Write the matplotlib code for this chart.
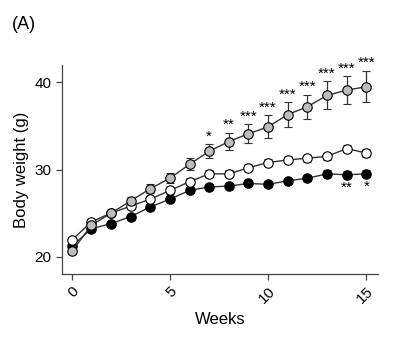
import matplotlib.pyplot as plt
import numpy as np

plt.rcParams['font.family'] = ['Liberation Sans', 'DejaVu Sans']

weeks = np.arange(16)

# Mean body weight (g) per group
gray_mean = [20.6, 23.6, 25.0, 26.4, 27.8, 29.0, 30.6, 32.1, 33.2, 34.1, 34.9, 36.3, 37.2, 38.5, 39.1, 39.5]
gray_err = [0.3, 0.3, 0.3, 0.4, 0.5, 0.6, 0.7, 0.8, 1.0, 1.1, 1.3, 1.4, 1.4, 1.6, 1.6, 1.8]
white_mean = [21.9, 24.0, 25.0, 25.8, 26.6, 27.6, 28.6, 29.5, 29.5, 30.2, 30.8, 31.1, 31.3, 31.5, 32.4, 31.9]
white_err = [0.3, 0.3, 0.3, 0.3, 0.3, 0.4, 0.4, 0.4, 0.4, 0.4, 0.4, 0.4, 0.4, 0.4, 0.4, 0.5]
black_mean = [21.2, 23.2, 23.8, 24.6, 25.7, 26.6, 27.6, 28.0, 28.1, 28.4, 28.3, 28.7, 29.0, 29.5, 29.4, 29.5]
black_err = [0.3, 0.3, 0.3, 0.3, 0.3, 0.3, 0.3, 0.3, 0.3, 0.3, 0.3, 0.3, 0.3, 0.4, 0.4, 0.4]

# Significance marks
gray_sig = {7: '*', 8: '**', 9: '***', 10: '***', 11: '***', 12: '***', 13: '***', 14: '***', 15: '***'}
black_sig = {14: '**', 15: '*'}

fig = plt.figure(figsize=(4.0, 3.38), dpi=100)
ax = fig.add_axes([0.155, 0.189, 0.79, 0.619])

style = dict(color='#333333', lw=1.0, marker='o', markersize=6.8,
             markeredgecolor='black', markeredgewidth=0.8,
             capsize=2.8, elinewidth=0.9, ecolor='#333333')
ax.errorbar(weeks, black_mean, yerr=black_err, markerfacecolor='black', zorder=3, **style)
ax.errorbar(weeks, white_mean, yerr=white_err, markerfacecolor='white', zorder=4, **style)
ax.errorbar(weeks, gray_mean, yerr=gray_err, markerfacecolor='#bdbdbd', zorder=5, **style)

for w, s in gray_sig.items():
    ax.text(w, gray_mean[w] + gray_err[w] + 0.1, s, ha='center', va='bottom',
            fontsize=11, clip_on=False)
for w, s in black_sig.items():
    ax.text(w, black_mean[w] - black_err[w] - 0.3, s, ha='center', va='top',
            fontsize=11)

ax.set_xlim(-0.5, 15.6)
ax.set_ylim(18, 42)
ax.set_xticks([0, 5, 10, 15])
ax.set_yticks([20, 30, 40])
ax.set_xticklabels(['0', '5', '10', '15'], rotation=45, ha='right', rotation_mode='anchor')
ax.tick_params(labelsize=11, direction='out', length=4, width=0.9, color='#444444')
ax.spines['top'].set_visible(False)
ax.spines['right'].set_visible(False)
for side in ['left', 'bottom']:
    ax.spines[side].set_color('#444444')
    ax.spines[side].set_linewidth(0.9)
ax.set_xlabel('Weeks', fontsize=12, labelpad=4)
ax.set_ylabel('Body weight (g)', fontsize=12, labelpad=4)

fig.text(0.03, 0.915, '(A)', fontsize=13)

fig.savefig('out.png', dpi=100)
